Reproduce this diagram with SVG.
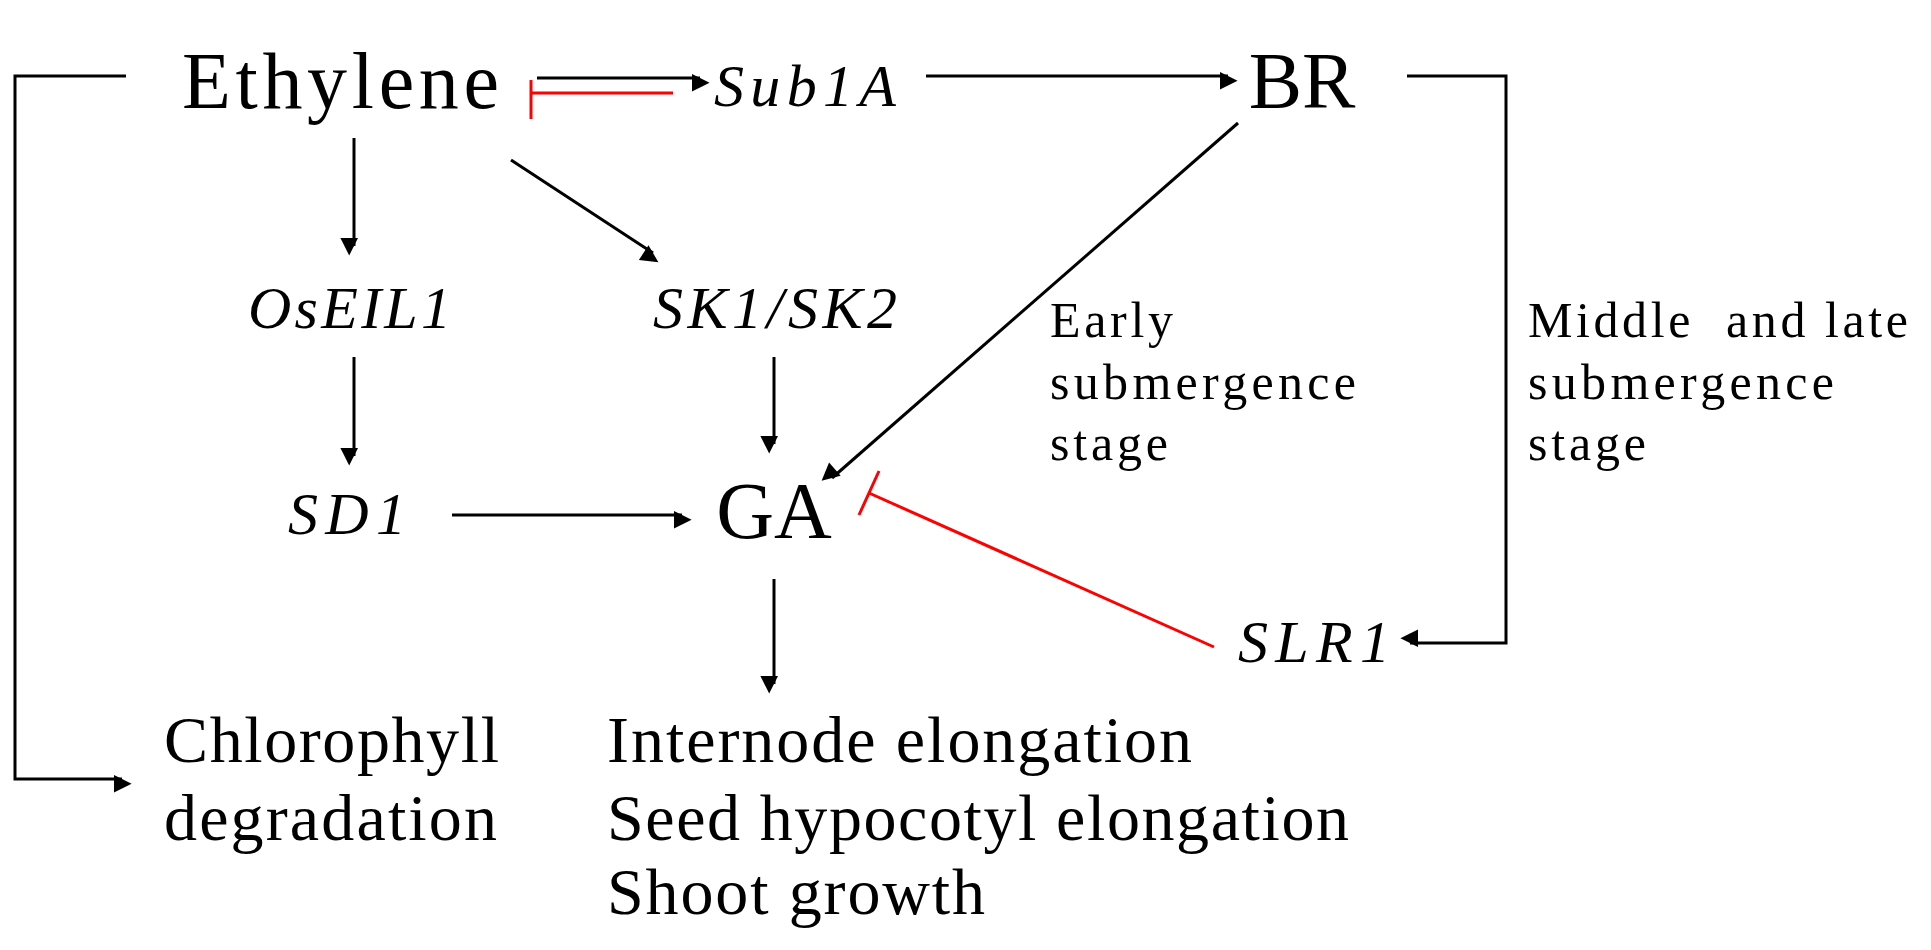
<svg xmlns="http://www.w3.org/2000/svg" width="1931" height="950" viewBox="0 0 1931 950">
<style>
text{font-family:"Liberation Serif","DejaVu Serif",serif;fill:#000}
.big{font-size:80px}
.it{font-style:italic;font-size:60px}
.lbl{font-size:50px}
.out{font-size:66px}
.k{stroke:#000;stroke-width:3;fill:none}
.r{stroke:#f00;stroke-width:3;fill:none}
</style>
<defs>
<marker id="a" viewBox="0 0 10 10" refX="10" refY="5" markerWidth="8" markerHeight="8" markerUnits="userSpaceOnUse" orient="auto" overflow="visible">
<path d="M0,0 L10,5 L0,10 Z" transform="scale(2.2)" fill="#000"/>
</marker>
</defs>
<rect width="1931" height="950" fill="#fff"/>
<g id="connectors">
<polyline class="k" points="126,76 15,76 15,779 122,779" marker-end="url(#a)"/>
<line class="k" x1="537" y1="78" x2="700" y2="78" marker-end="url(#a)"/>
<line class="r" x1="531" y1="93" x2="673" y2="93"/>
<line class="r" x1="531" y1="80" x2="531" y2="119"/>
<line class="k" x1="926" y1="76" x2="1228" y2="76" marker-end="url(#a)"/>
<polyline class="k" points="1407,76 1506,76 1506,643 1410,643" marker-end="url(#a)"/>
<line class="k" x1="354" y1="138" x2="354" y2="246" marker-end="url(#a)"/>
<line class="k" x1="511" y1="160" x2="653" y2="253" marker-end="url(#a)"/>
<line class="k" x1="354" y1="357" x2="354" y2="456" marker-end="url(#a)"/>
<line class="k" x1="774" y1="357" x2="774" y2="444" marker-end="url(#a)"/>
<line class="k" x1="452" y1="515" x2="682" y2="515" marker-end="url(#a)"/>
<line class="k" x1="1238" y1="123" x2="832" y2="478" marker-end="url(#a)"/>
<line class="r" x1="1214" y1="647" x2="869" y2="493"/>
<line class="r" x1="879" y1="471" x2="859" y2="515"/>
<line class="k" x1="774" y1="579" x2="774" y2="684" marker-end="url(#a)"/>
</g>
<g id="ethylene"><text class="big" x="182" y="108" textLength="317" lengthAdjust="spacing">Ethylene</text></g>
<g id="sub1a"><text class="it" x="714" y="106" textLength="182" lengthAdjust="spacing">Sub1A</text></g>
<g id="br"><text class="big" x="1302" y="108" text-anchor="middle">BR</text></g>
<g id="oseil1"><text class="it" x="248" y="328" textLength="203" lengthAdjust="spacing">OsEIL1</text></g>
<g id="sk"><text class="it" x="653" y="328" textLength="244" lengthAdjust="spacing">SK1/SK2</text></g>
<g id="sd1"><text class="it" x="288" y="534" textLength="118" lengthAdjust="spacing">SD1</text></g>
<g id="ga"><text class="big" x="774" y="538" text-anchor="middle">GA</text></g>
<g id="slr1"><text class="it" x="1238" y="662" textLength="152" lengthAdjust="spacing">SLR1</text></g>
<g id="early"><text class="lbl" x="1050" y="337" textLength="123" lengthAdjust="spacing">Early</text><text class="lbl" x="1050" y="399" textLength="306" lengthAdjust="spacing">submergence</text><text class="lbl" x="1050" y="460" textLength="118" lengthAdjust="spacing">stage</text></g>
<g id="middle"><text class="lbl" x="1528" y="337" xml:space="preserve" textLength="380" lengthAdjust="spacing">Middle  and late</text><text class="lbl" x="1528" y="399" textLength="306" lengthAdjust="spacing">submergence</text><text class="lbl" x="1528" y="460" textLength="118" lengthAdjust="spacing">stage</text></g>
<g id="chloro"><text class="out" x="164" y="762" textLength="335" lengthAdjust="spacing">Chlorophyll</text><text class="out" x="164" y="840" textLength="333" lengthAdjust="spacing">degradation</text></g>
<g id="outcomes"><text class="out" x="607" y="762" textLength="585" lengthAdjust="spacing">Internode elongation</text><text class="out" x="607" y="840" textLength="742" lengthAdjust="spacing">Seed hypocotyl elongation</text><text class="out" x="607" y="914" textLength="378" lengthAdjust="spacing">Shoot growth</text></g>
</svg>
